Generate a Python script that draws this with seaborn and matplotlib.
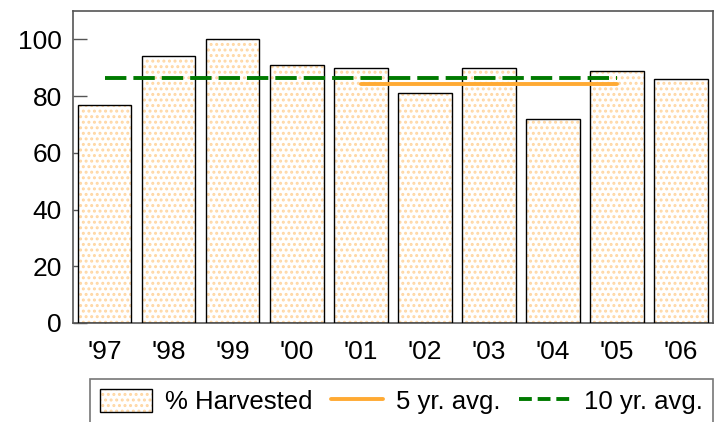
import matplotlib.pyplot as plt
import seaborn as sns
from matplotlib.patches import Patch
from matplotlib.lines import Line2D
from matplotlib.legend_handler import HandlerTuple

years = ["'97", "'98", "'99", "'00", "'01", "'02", "'03", "'04", "'05", "'06"]
harvested = [77, 94, 100, 91, 90, 81, 90, 72, 89, 86]
avg5 = 84.2
avg5_span = ["'01", "'05"]
avg10 = 86.3
avg10_span = ["'97", "'05"]

sns.set_style("white")
plt.rcParams['font.family'] = ['Liberation Sans', 'DejaVu Sans']
plt.rcParams['text.color'] = 'black'
plt.rcParams['xtick.color'] = 'black'
plt.rcParams['ytick.color'] = 'black'
plt.rcParams['hatch.linewidth'] = 1.4

dot_color = '#ffd7a3'
fig = plt.figure(figsize=(7.22, 4.22), dpi=100)
ax = fig.add_axes([0.101, 0.2346, 0.8865, 0.7394])

# dotted fill layer, then black outlines on top
sns.barplot(x=years, y=harvested, color='white', width=0.83,
            linewidth=0, hatch='...', ax=ax)
for p in ax.patches:
    p.set_facecolor('white')
    p.set_edgecolor(dot_color)
    p.set_linewidth(0)
    ax.add_patch(plt.Rectangle(p.get_xy(), p.get_width(), p.get_height(),
                               fill=False, edgecolor='black', linewidth=1.0, zorder=3))

x5 = [years.index(y) for y in avg5_span]
x10 = [years.index(y) for y in avg10_span]
sns.lineplot(x=x5, y=[avg5, avg5], color='#ffaa33', linewidth=2.8, ax=ax, zorder=4)
sns.lineplot(x=x10, y=[avg10, avg10], color='#007a00', linewidth=2.8, ax=ax, zorder=5,
             linestyle=(0, (5.5, 1.8)))

ax.set_xlim(-0.5, 9.5)
ax.set_ylim(0, 110)
ax.set_yticks([0, 20, 40, 60, 80, 100])
ax.set_xticks(range(len(years)))
ax.set_xticklabels(years)
ax.tick_params(axis='both', direction='in', length=10, width=1, color='#555555',
               labelsize=19, labelcolor='black')
ax.tick_params(axis='x', pad=12)
ax.tick_params(axis='y', pad=8)
ax.tick_params(left=True, bottom=True)
for s in ax.spines.values():
    s.set_color('#555555')
    s.set_linewidth(1.2)
ax.set_xlabel('')
ax.set_ylabel('')

bar_handle = (Patch(facecolor='white', edgecolor=dot_color, hatch='...', linewidth=0),
              Patch(fill=False, edgecolor='black', linewidth=1.0))
handles = [
    bar_handle,
    Line2D([], [], color='#ffaa33', linewidth=2.8),
    Line2D([], [], color='#007a00', linewidth=2.8, linestyle=(0, (3.3, 1.5))),
]
labels = ['% Harvested', '5 yr. avg.', '10 yr. avg.']
leg = fig.legend(handles, labels, loc='upper left', bbox_to_anchor=(0.1247, 0.1019),
                 ncol=3, fontsize=18.5, frameon=True, fancybox=False,
                 edgecolor='#555555', handlelength=2.0, handleheight=0.96,
                 columnspacing=0.75, handletextpad=0.5, borderpad=0.4,
                 borderaxespad=0, handler_map={tuple: HandlerTuple(ndivide=1, pad=0)})
leg.get_frame().set_linewidth(1.2)

fig.savefig('out.png', dpi=100)
